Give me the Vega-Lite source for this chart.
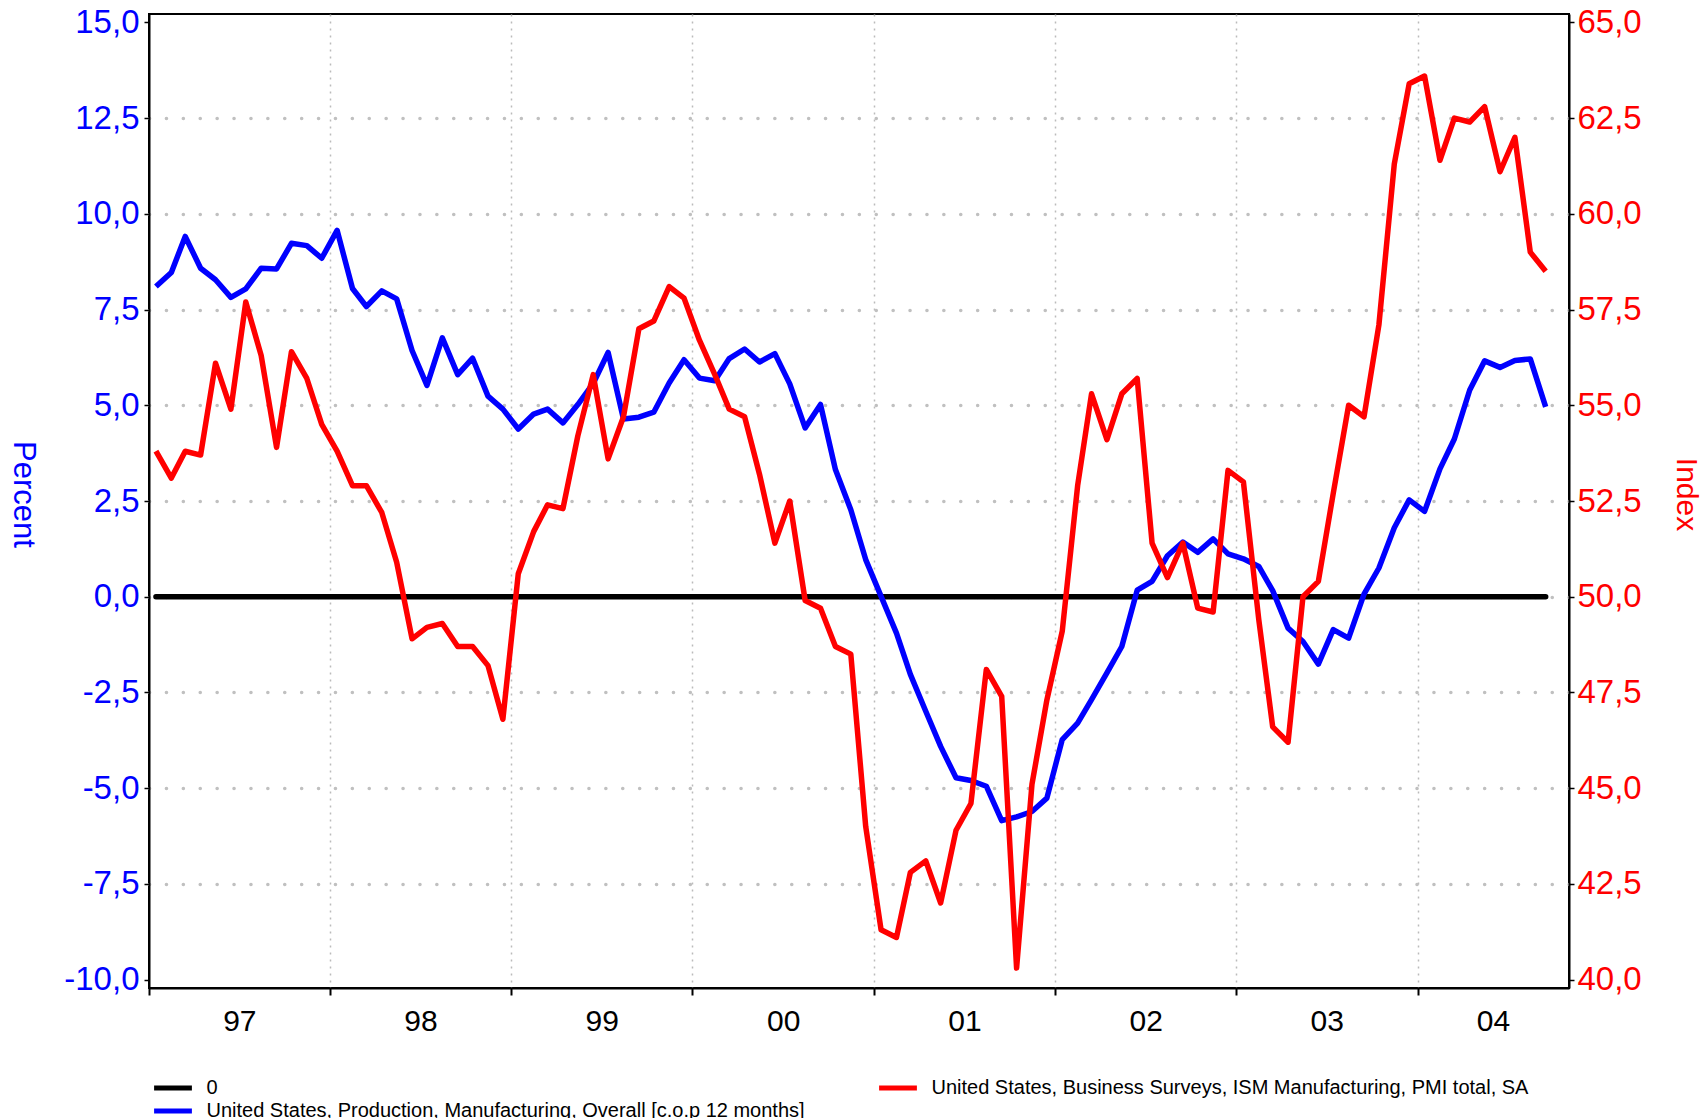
{
  "$schema": "https://vega.github.io/schema/vega-lite/v6.json",
  "width": 1420,
  "height": 974,
  "autosize": {"type": "none"},
  "padding": {"left": 149, "top": 14, "right": 135, "bottom": 130},
  "background": "white",
  "datasets": {
    "main": [
      {"date": "1997-01-15", "prod": 8.10, "ism": 53.8},
      {"date": "1997-02-15", "prod": 8.47, "ism": 53.1},
      {"date": "1997-03-15", "prod": 9.41, "ism": 53.8},
      {"date": "1997-04-15", "prod": 8.58, "ism": 53.7},
      {"date": "1997-05-15", "prod": 8.28, "ism": 56.1},
      {"date": "1997-06-15", "prod": 7.82, "ism": 54.9},
      {"date": "1997-07-15", "prod": 8.04, "ism": 57.7},
      {"date": "1997-08-15", "prod": 8.58, "ism": 56.3},
      {"date": "1997-09-15", "prod": 8.56, "ism": 53.9},
      {"date": "1997-10-15", "prod": 9.23, "ism": 56.4},
      {"date": "1997-11-15", "prod": 9.17, "ism": 55.7},
      {"date": "1997-12-15", "prod": 8.84, "ism": 54.5},
      {"date": "1998-01-15", "prod": 9.57, "ism": 53.8},
      {"date": "1998-02-15", "prod": 8.05, "ism": 52.9},
      {"date": "1998-03-15", "prod": 7.58, "ism": 52.9},
      {"date": "1998-04-15", "prod": 7.99, "ism": 52.2},
      {"date": "1998-05-15", "prod": 7.78, "ism": 50.9},
      {"date": "1998-06-15", "prod": 6.43, "ism": 48.9},
      {"date": "1998-07-15", "prod": 5.52, "ism": 49.2},
      {"date": "1998-08-15", "prod": 6.76, "ism": 49.3},
      {"date": "1998-09-15", "prod": 5.80, "ism": 48.7},
      {"date": "1998-10-15", "prod": 6.23, "ism": 48.7},
      {"date": "1998-11-15", "prod": 5.24, "ism": 48.2},
      {"date": "1998-12-15", "prod": 4.90, "ism": 46.8},
      {"date": "1999-01-15", "prod": 4.38, "ism": 50.6},
      {"date": "1999-02-15", "prod": 4.77, "ism": 51.7},
      {"date": "1999-03-15", "prod": 4.90, "ism": 52.4},
      {"date": "1999-04-15", "prod": 4.54, "ism": 52.3},
      {"date": "1999-05-15", "prod": 5.02, "ism": 54.2},
      {"date": "1999-06-15", "prod": 5.57, "ism": 55.8},
      {"date": "1999-07-15", "prod": 6.38, "ism": 53.6},
      {"date": "1999-08-15", "prod": 4.64, "ism": 54.7},
      {"date": "1999-09-15", "prod": 4.69, "ism": 57.0},
      {"date": "1999-10-15", "prod": 4.82, "ism": 57.2},
      {"date": "1999-11-15", "prod": 5.58, "ism": 58.1},
      {"date": "1999-12-15", "prod": 6.19, "ism": 57.8},
      {"date": "2000-01-15", "prod": 5.71, "ism": 56.7},
      {"date": "2000-02-15", "prod": 5.64, "ism": 55.8},
      {"date": "2000-03-15", "prod": 6.22, "ism": 54.9},
      {"date": "2000-04-15", "prod": 6.47, "ism": 54.7},
      {"date": "2000-05-15", "prod": 6.13, "ism": 53.2},
      {"date": "2000-06-15", "prod": 6.35, "ism": 51.4},
      {"date": "2000-07-15", "prod": 5.56, "ism": 52.5},
      {"date": "2000-08-15", "prod": 4.41, "ism": 49.9},
      {"date": "2000-09-15", "prod": 5.02, "ism": 49.7},
      {"date": "2000-10-15", "prod": 3.32, "ism": 48.7},
      {"date": "2000-11-15", "prod": 2.27, "ism": 48.5},
      {"date": "2000-12-15", "prod": 0.97, "ism": 44.0},
      {"date": "2001-01-15", "prod": 0.01, "ism": 41.3},
      {"date": "2001-02-15", "prod": -0.95, "ism": 41.1},
      {"date": "2001-03-15", "prod": -2.03, "ism": 42.8},
      {"date": "2001-04-15", "prod": -2.99, "ism": 43.1},
      {"date": "2001-05-15", "prod": -3.91, "ism": 42.0},
      {"date": "2001-06-15", "prod": -4.73, "ism": 43.9},
      {"date": "2001-07-15", "prod": -4.80, "ism": 44.6},
      {"date": "2001-08-15", "prod": -4.95, "ism": 48.1},
      {"date": "2001-09-15", "prod": -5.85, "ism": 47.4},
      {"date": "2001-10-15", "prod": -5.75, "ism": 40.3},
      {"date": "2001-11-15", "prod": -5.61, "ism": 45.1},
      {"date": "2001-12-15", "prod": -5.26, "ism": 47.3},
      {"date": "2002-01-15", "prod": -3.73, "ism": 49.1},
      {"date": "2002-02-15", "prod": -3.30, "ism": 52.9},
      {"date": "2002-03-15", "prod": -2.69, "ism": 55.3},
      {"date": "2002-04-15", "prod": -1.99, "ism": 54.1},
      {"date": "2002-05-15", "prod": -1.30, "ism": 55.3},
      {"date": "2002-06-15", "prod": 0.17, "ism": 55.7},
      {"date": "2002-07-15", "prod": 0.40, "ism": 51.4},
      {"date": "2002-08-15", "prod": 1.07, "ism": 50.5},
      {"date": "2002-09-15", "prod": 1.43, "ism": 51.4},
      {"date": "2002-10-15", "prod": 1.16, "ism": 49.7},
      {"date": "2002-11-15", "prod": 1.51, "ism": 49.6},
      {"date": "2002-12-15", "prod": 1.12, "ism": 53.3},
      {"date": "2003-01-15", "prod": 0.99, "ism": 53.0},
      {"date": "2003-02-15", "prod": 0.79, "ism": 49.4},
      {"date": "2003-03-15", "prod": 0.16, "ism": 46.6},
      {"date": "2003-04-15", "prod": -0.82, "ism": 46.2},
      {"date": "2003-05-15", "prod": -1.17, "ism": 50.0},
      {"date": "2003-06-15", "prod": -1.76, "ism": 50.4},
      {"date": "2003-07-15", "prod": -0.86, "ism": 52.7},
      {"date": "2003-08-15", "prod": -1.08, "ism": 55.0},
      {"date": "2003-09-15", "prod": 0.07, "ism": 54.7},
      {"date": "2003-10-15", "prod": 0.75, "ism": 57.1},
      {"date": "2003-11-15", "prod": 1.80, "ism": 61.3},
      {"date": "2003-12-15", "prod": 2.53, "ism": 63.4},
      {"date": "2004-01-15", "prod": 2.23, "ism": 63.6},
      {"date": "2004-02-15", "prod": 3.34, "ism": 61.4},
      {"date": "2004-03-15", "prod": 4.12, "ism": 62.5},
      {"date": "2004-04-15", "prod": 5.40, "ism": 62.4},
      {"date": "2004-05-15", "prod": 6.16, "ism": 62.8},
      {"date": "2004-06-15", "prod": 5.99, "ism": 61.1},
      {"date": "2004-07-15", "prod": 6.17, "ism": 62.0},
      {"date": "2004-08-15", "prod": 6.21, "ism": 59.0},
      {"date": "2004-09-15", "prod": 4.96, "ism": 58.5}
    ],
    "zero": [
      {"date": "1997-01-15", "zero": 0},
      {"date": "2004-09-15", "zero": 0}
    ]
  },
  "config": {
    "font": "Liberation Sans",
    "view": {"stroke": "black", "strokeWidth": 2},
    "locale": {"number": {"decimal": ",", "thousands": ".", "grouping": [3], "currency": ["", ""], "minus": "-"}},
    "legend": {
      "orient": "none",
      "legendX": 11,
      "legendY": 1061,
      "columns": 2,
      "gridAlign": "each",
      "columnPadding": 64,
      "rowPadding": 0,
      "symbolType": "M-1.8,0H1.8",
      "symbolSize": 441,
      "symbolStrokeWidth": 5,
      "labelFont": "Liberation Sans",
      "labelFontSize": 20,
      "labelColor": "black",
      "labelOffset": 20.5,
      "labelLimit": 1000,
      "padding": 0
    }
  },
  "layer": [
    {
      "layer": [
        {
          "data": {"name": "zero"},
          "mark": {"type": "line", "strokeWidth": 5.5, "strokeCap": "round"},
          "encoding": {
            "x": {
              "field": "date", "type": "temporal",
              "scale": {"type": "utc", "domain": [{"year": 1997, "month": 1, "date": 1, "utc": true}, {"year": 2004, "month": 11, "date": 1, "utc": true}]},
              "axis": {
                "orient": "bottom",
                "values": [
                  {"year": 1997, "month": 1, "date": 1, "utc": true},
                  {"year": 1998, "month": 1, "date": 1, "utc": true},
                  {"year": 1999, "month": 1, "date": 1, "utc": true},
                  {"year": 2000, "month": 1, "date": 1, "utc": true},
                  {"year": 2001, "month": 1, "date": 1, "utc": true},
                  {"year": 2002, "month": 1, "date": 1, "utc": true},
                  {"year": 2003, "month": 1, "date": 1, "utc": true},
                  {"year": 2004, "month": 1, "date": 1, "utc": true}
                ],
                "labels": false, "tickSize": 7, "tickColor": "black", "tickWidth": 2,
                "domainColor": "black", "domainWidth": 2,
                "grid": true, "gridColor": "#bbbbbb", "gridWidth": 1.5, "gridDash": [2, 5],
                "gridOpacity": {"condition": {"test": "utcyear(datum.value) == 1997", "value": 0}, "value": 1},
                "title": null
              }
            },
            "y": {
              "field": "zero", "type": "quantitative",
              "scale": {"domain": [-10.22, 15.22], "nice": false, "zero": false},
              "axis": {
                "orient": "left",
                "values": [-10, -7.5, -5, -2.5, 0, 2.5, 5, 7.5, 10, 12.5, 15],
                "format": ".1f",
                "labelColor": "#0000ff", "labelFontSize": 33, "labelPadding": 5,
                "tickSize": 5, "tickColor": "black", "tickWidth": 1.5,
                "domainColor": "black", "domainWidth": 2,
                "grid": true, "gridColor": "#c0c0c0", "gridWidth": 3.5, "gridDash": [0.1, 16.8], "gridCap": "round",
                "gridOpacity": {"condition": {"test": "datum.value == 15 || datum.value == -10", "value": 0}, "value": 1},
                "title": "Percent", "titleColor": "#0000ff", "titleFontSize": 31, "titleFontWeight": "normal",
                "titleAngle": 90, "titleX": -127, "titleY": 480, "titleAlign": "center", "titleBaseline": "middle"
              }
            },
            "color": {
              "datum": "0", "type": "nominal",
              "scale": {"domain": ["0", "United States, Business Surveys, ISM Manufacturing, PMI total, SA", "United States, Production, Manufacturing, Overall [c.o.p 12 months]"], "range": ["#000000", "#ff0000", "#0000ff"]},
              "legend": {"title": null, "values": ["0", "United States, Production, Manufacturing, Overall [c.o.p 12 months]", "United States, Business Surveys, ISM Manufacturing, PMI total, SA"]}
            }
          }
        },
        {
          "data": {"name": "main"},
          "mark": {"type": "line", "strokeWidth": 5.5, "strokeJoin": "round"},
          "encoding": {
            "x": {
              "field": "date", "type": "temporal",
              "scale": {"type": "utc", "domain": [{"year": 1997, "month": 1, "date": 1, "utc": true}, {"year": 2004, "month": 11, "date": 1, "utc": true}]},
              "axis": {
                "orient": "bottom",
                "values": [
                  {"year": 1997, "month": 1, "date": 1, "utc": true},
                  {"year": 1998, "month": 1, "date": 1, "utc": true},
                  {"year": 1999, "month": 1, "date": 1, "utc": true},
                  {"year": 2000, "month": 1, "date": 1, "utc": true},
                  {"year": 2001, "month": 1, "date": 1, "utc": true},
                  {"year": 2002, "month": 1, "date": 1, "utc": true},
                  {"year": 2003, "month": 1, "date": 1, "utc": true},
                  {"year": 2004, "month": 1, "date": 1, "utc": true}
                ],
                "labels": false, "tickSize": 7, "tickColor": "black", "tickWidth": 2,
                "domainColor": "black", "domainWidth": 2,
                "grid": true, "gridColor": "#bbbbbb", "gridWidth": 1.5, "gridDash": [2, 5],
                "gridOpacity": {"condition": {"test": "utcyear(datum.value) == 1997", "value": 0}, "value": 1},
                "title": null
              }
            },
            "y": {
              "field": "prod", "type": "quantitative",
              "scale": {"domain": [-10.22, 15.22], "nice": false, "zero": false},
              "axis": {
                "orient": "left",
                "values": [-10, -7.5, -5, -2.5, 0, 2.5, 5, 7.5, 10, 12.5, 15],
                "format": ".1f",
                "labelColor": "#0000ff", "labelFontSize": 33, "labelPadding": 5,
                "tickSize": 5, "tickColor": "black", "tickWidth": 1.5,
                "domainColor": "black", "domainWidth": 2,
                "grid": true, "gridColor": "#c0c0c0", "gridWidth": 3.5, "gridDash": [0.1, 16.8], "gridCap": "round",
                "gridOpacity": {"condition": {"test": "datum.value == 15 || datum.value == -10", "value": 0}, "value": 1},
                "title": "Percent", "titleColor": "#0000ff", "titleFontSize": 31, "titleFontWeight": "normal",
                "titleAngle": 90, "titleX": -127, "titleY": 480, "titleAlign": "center", "titleBaseline": "middle"
              }
            },
            "color": {
              "datum": "United States, Production, Manufacturing, Overall [c.o.p 12 months]", "type": "nominal",
              "scale": {"domain": ["0", "United States, Business Surveys, ISM Manufacturing, PMI total, SA", "United States, Production, Manufacturing, Overall [c.o.p 12 months]"], "range": ["#000000", "#ff0000", "#0000ff"]},
              "legend": {"title": null, "values": ["0", "United States, Production, Manufacturing, Overall [c.o.p 12 months]", "United States, Business Surveys, ISM Manufacturing, PMI total, SA"]}
            }
          }
        }
      ]
    },
    {
      "data": {"name": "main"},
      "mark": {"type": "line", "strokeWidth": 5.5, "strokeJoin": "round"},
      "encoding": {
        "x": {
          "field": "date", "type": "temporal",
          "scale": {"type": "utc", "domain": [{"year": 1997, "month": 1, "date": 1, "utc": true}, {"year": 2004, "month": 11, "date": 1, "utc": true}]},
          "axis": {
            "orient": "bottom",
            "values": [
              {"year": 1997, "month": 7, "date": 2, "utc": true},
              {"year": 1998, "month": 7, "date": 2, "utc": true},
              {"year": 1999, "month": 7, "date": 2, "utc": true},
              {"year": 2000, "month": 7, "date": 2, "utc": true},
              {"year": 2001, "month": 7, "date": 2, "utc": true},
              {"year": 2002, "month": 7, "date": 2, "utc": true},
              {"year": 2003, "month": 7, "date": 2, "utc": true},
              {"year": 2004, "month": 6, "date": 1, "utc": true}
            ],
            "labelExpr": "utcFormat(datum.value, '%y')",
            "ticks": false, "domain": false, "grid": false,
            "labelFontSize": 30, "labelColor": "black", "labelPadding": 18,
            "labelFlush": false, "labelOverlap": false,
            "title": null
          }
        },
        "y": {
          "field": "ism", "type": "quantitative",
          "scale": {"domain": [39.78, 65.22], "nice": false, "zero": false},
          "axis": {
            "orient": "right",
            "values": [40, 42.5, 45, 47.5, 50, 52.5, 55, 57.5, 60, 62.5, 65],
            "format": ".1f",
            "labelColor": "#ff0000", "labelFontSize": 33, "labelPadding": 3,
            "tickSize": 5, "tickColor": "black", "tickWidth": 1.5,
            "domainColor": "black", "domainWidth": 2,
            "grid": false,
            "title": "Index", "titleColor": "#ff0000", "titleFontSize": 30, "titleFontWeight": "normal",
            "titleAngle": 90, "titleX": 116, "titleY": 480, "titleAlign": "center", "titleBaseline": "middle"
          }
        },
        "color": {
          "datum": "United States, Business Surveys, ISM Manufacturing, PMI total, SA", "type": "nominal",
          "scale": {"domain": ["0", "United States, Business Surveys, ISM Manufacturing, PMI total, SA", "United States, Production, Manufacturing, Overall [c.o.p 12 months]"], "range": ["#000000", "#ff0000", "#0000ff"]},
          "legend": {"title": null, "values": ["0", "United States, Production, Manufacturing, Overall [c.o.p 12 months]", "United States, Business Surveys, ISM Manufacturing, PMI total, SA"]}
        }
      }
    }
  ],
  "resolve": {"scale": {"y": "independent"}, "axis": {"x": "independent"}}
}
